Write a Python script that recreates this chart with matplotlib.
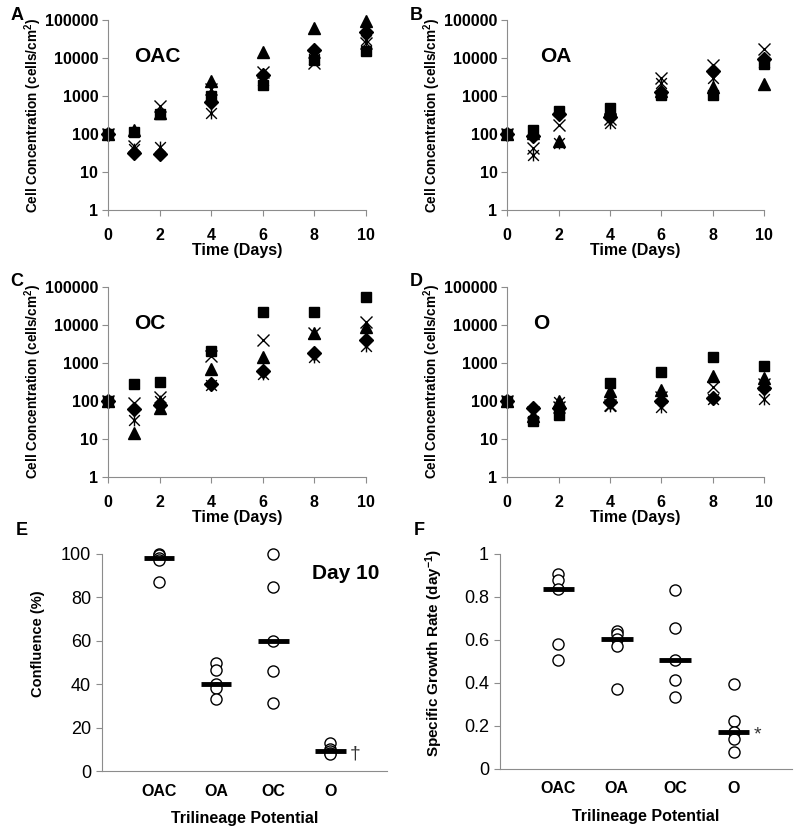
import numpy as np
import matplotlib
matplotlib.use('Agg')
import matplotlib.pyplot as plt
from matplotlib.path import Path

plt.rcParams['font.family'] = ['Liberation Sans', 'DejaVu Sans']
plt.rcParams['mathtext.fontset'] = 'custom'
plt.rcParams['mathtext.rm'] = 'Liberation Sans'
plt.rcParams['mathtext.bf'] = 'Liberation Sans:bold'
plt.rcParams['mathtext.default'] = 'bf'

days = [0, 1, 2, 4, 6, 8, 10]

# growth curves, one list per replicate (diamond, square, triangle, x, star)
oac_diamond = [100, 31, 30, 700, 3600, 16000, 48000]
oac_square = [100, 115, 330, 1000, 2000, 9000, 15000]
oac_triangle = [100, 130, 350, 2500, 14000, 60000, 95000]
oac_x = [100, 50, 550, 1500, 4200, 7500, 25000]
oac_star = [100, 40, 45, 350, 2600, 9500, 30000]

oa_diamond = [100, 90, 330, 280, 1300, 4600, 9500]
oa_square = [100, 130, 400, 500, 1050, 1100, 7000]
oa_triangle = [100, 110, 65, 450, 1400, 1700, 2100]
oa_x = [100, 42, 170, 250, 3000, 6500, 17000]
oa_star = [100, 28, 60, 200, 2200, 3000, 8000]

oc_diamond = [100, 60, 80, 280, 600, 1800, 4000]
oc_square = [100, 280, 320, 2100, 22000, 22000, 55000]
oc_triangle = [100, 14, 65, 700, 1400, 6000, 9000]
oc_x = [100, 90, 130, 1500, 4000, 6000, 12000]
oc_star = [100, 32, 100, 270, 500, 1400, 2800]

o_diamond = [100, 65, 65, 95, 100, 120, 220]
o_square = [100, 30, 42, 300, 580, 1400, 820]
o_triangle = [100, 40, 100, 180, 200, 450, 400]
o_x = [100, 50, 70, 80, 130, 230, 280]
o_star = [100, 45, 95, 75, 70, 115, 110]

groups = ['OAC', 'OA', 'OC', 'O']
confluence = [[100, 99.5, 98, 97, 87],
              [49.5, 46.5, 40, 38, 33],
              [100, 84.5, 60, 46, 31.5],
              [13, 10, 9, 8.5, 8]]
growth_rate = [[0.905, 0.88, 0.835, 0.58, 0.505],
               [0.64, 0.625, 0.605, 0.57, 0.37],
               [0.83, 0.655, 0.505, 0.415, 0.335],
               [0.395, 0.225, 0.17, 0.14, 0.08]]

star = Path([(-1, -1), (1, 1), (-1, 1), (1, -1), (0, -1.1), (0, 1.1)],
            [Path.MOVETO, Path.LINETO, Path.MOVETO, Path.LINETO, Path.MOVETO, Path.LINETO])

gray = '#8c8c8c'
fig = plt.figure(figsize=(8, 8.34), dpi=100)


def growth_panel(rect, series, title, letter, title_xy):
    ax = fig.add_axes(rect)
    styles = [('D', 7, True), ('s', 7.5, True), ('^', 8, True), ('x', 8.5, False), (star, 8.5, False)]
    for vals, (m, ms, filled) in zip(series, styles):
        if filled:
            ax.plot(days, vals, linestyle='none', marker=m, ms=ms, color='black', clip_on=False)
        else:
            ax.plot(days, vals, linestyle='none', marker=m, ms=ms, mec='black', mfc='none',
                    mew=1.0, clip_on=False)
    ax.set_yscale('log')
    ax.set_ylim(1, 100000)
    ax.set_xlim(0, 10)
    ax.set_yticks([1, 10, 100, 1000, 10000, 100000])
    ax.set_yticklabels(['1', '10', '100', '1000', '10000', '100000'])
    ax.minorticks_off()
    ax.set_xticks([0, 2, 4, 6, 8, 10])
    for s in ['top', 'right']:
        ax.spines[s].set_visible(False)
    for s in ['left', 'bottom']:
        ax.spines[s].set_color(gray)
    ax.tick_params(axis='y', length=4, color=gray, pad=3, labelsize=11.5)
    ax.tick_params(axis='x', length=4, color=gray, pad=9, labelsize=11.5)
    for lab in ax.get_xticklabels() + ax.get_yticklabels():
        lab.set_fontweight('bold')
    ax.set_xlabel('Time (Days)', fontsize=11.5, fontweight='bold', labelpad=0)
    ax.set_ylabel('Cell Concentration (cells/cm$^2$)', fontsize=9.8, fontweight='bold', labelpad=1)
    ax.text(title_xy[0], title_xy[1], title, transform=ax.transAxes, fontsize=15,
            fontweight='bold', ha='left', va='center')
    fig.text(rect[0] - 0.122, rect[1] + rect[3] + 0.006, letter, fontsize=13, fontweight='bold',
             ha='left', va='center')
    return ax


growth_panel([0.135, 0.748, 0.3225, 0.228],
             [oac_diamond, oac_square, oac_triangle, oac_x, oac_star], 'OAC', 'A', (0.1, 0.81))
growth_panel([0.634, 0.748, 0.321, 0.228],
             [oa_diamond, oa_square, oa_triangle, oa_x, oa_star], 'OA', 'B', (0.13, 0.81))
growth_panel([0.135, 0.428, 0.3225, 0.228],
             [oc_diamond, oc_square, oc_triangle, oc_x, oc_star], 'OC', 'C', (0.1, 0.81))
growth_panel([0.634, 0.428, 0.321, 0.228],
             [o_diamond, o_square, o_triangle, o_x, o_star], 'O', 'D', (0.1, 0.81))


def dot_panel(rect, data, ylim, yticks, yticklabels, ylabel, letter, mark, label_xy, label_size):
    ax = fig.add_axes(rect)
    for i, vals in enumerate(data):
        xpos = i + 1
        ax.plot([xpos] * len(vals), vals, linestyle='none', marker='o', ms=8,
                mfc='white', mec='black', mew=1.0, clip_on=False, zorder=3)
        ax.hlines(np.median(vals), xpos - 0.27, xpos + 0.27, color='black', lw=3.5, zorder=4)
    ax.set_xlim(0, 5)
    ax.set_ylim(*ylim)
    ax.set_yticks(yticks)
    ax.set_yticklabels(yticklabels)
    ax.set_xticks([1, 2, 3, 4])
    ax.set_xticklabels(groups, fontweight='bold')
    for s in ['top', 'right']:
        ax.spines[s].set_visible(False)
    for s in ['left', 'bottom']:
        ax.spines[s].set_color(gray)
    ax.tick_params(axis='y', length=4, color=gray, pad=4, labelsize=13)
    ax.tick_params(axis='x', length=0, pad=9, labelsize=11.5)
    ax.set_xlabel('Trilineage Potential', fontsize=11.5, fontweight='bold', labelpad=9)
    ax.set_ylabel(ylabel, fontsize=label_size, fontweight='bold')
    ax.yaxis.set_label_coords(*label_xy)
    ax.text(4.35, np.median(data[3]) - 0.012 * (ylim[1] - ylim[0]), mark, fontsize=14,
            ha='left', va='center', color='#333333')
    fig.text(rect[0] - 0.108, rect[1] + rect[3] + 0.028, letter, fontsize=13, fontweight='bold',
             ha='left', va='center')
    return ax


axe = dot_panel([0.1275, 0.0755, 0.3565, 0.2605], confluence, (0, 100),
                [0, 20, 40, 60, 80, 100], ['0', '20', '40', '60', '80', '100'],
                'Confluence (%)', 'E', '\u2020', (-0.2, 0.585), 10.5)
axe.text(4.27, 91, 'Day 10', fontsize=15, fontweight='bold', ha='center', va='center')

dot_panel([0.625, 0.078, 0.365, 0.258], growth_rate, (0, 1),
          [0, 0.2, 0.4, 0.6, 0.8, 1], ['0', '0.2', '0.4', '0.6', '0.8', '1'],
          'Specific Growth Rate (day$^{-1}$)', 'F', '*', (-0.19, 0.54), 11)

fig.savefig('out.png', dpi=100)
